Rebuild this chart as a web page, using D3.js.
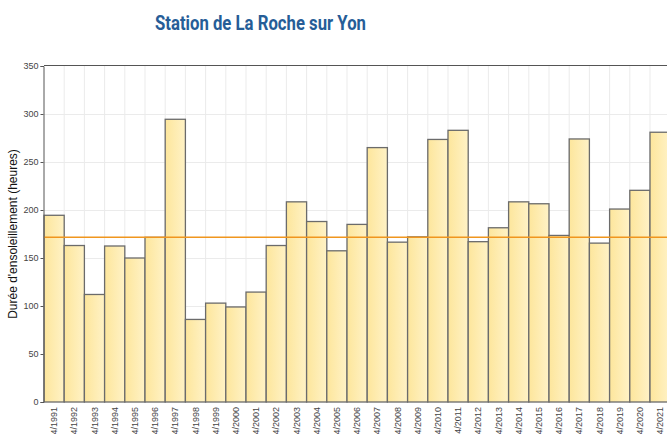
<!DOCTYPE html>
<html>
<head>
<meta charset="utf-8">
<script src="https://cdn.jsdelivr.net/npm/d3@7"></script>
<style>
  html, body { margin: 0; padding: 0; background: #fff; overflow: hidden; }
  svg { display: block; }
</style>
</head>
<body>
<div id="chart"></div>
<script>
const years = [1991, 1992, 1993, 1994, 1995, 1996, 1997, 1998, 1999, 2000,
  2001, 2002, 2003, 2004, 2005, 2006, 2007, 2008, 2009, 2010,
  2011, 2012, 2013, 2014, 2015, 2016, 2017, 2018, 2019, 2020, 2021];
const sunHours = [194.5, 163, 112, 162.5, 150, 171.5, 294.5, 86, 103, 99,
  114.5, 163, 208.5, 188, 157.5, 185, 265, 166.5, 172, 273.5,
  283, 167, 181.5, 208.5, 206.5, 173.5, 274, 165.5, 201, 220.5, 281];
const meanHours = 171.6;
const yTicks = [0, 50, 100, 150, 200, 250, 300, 350];
const labelFor = y => '04/' + y;

const W = 667, H = 434;
const margin = { top: 66, left: 44, bottom: 32 };
const barW = 20.2;
const plotBottom = H - margin.bottom;

const svg = d3.select('#chart').append('svg')
  .attr('width', W)
  .attr('height', H);

const defs = svg.append('defs');
const grad = defs.append('linearGradient')
  .attr('id', 'barFill')
  .attr('x1', '0%').attr('x2', '100%')
  .attr('y1', '0%').attr('y2', '0%');
grad.append('stop').attr('offset', '0%').attr('stop-color', '#fde69c');
grad.append('stop').attr('offset', '100%').attr('stop-color', '#fff2c6');

const x = d3.scaleBand()
  .domain(years)
  .range([margin.left, margin.left + years.length * barW])
  .padding(0);

const y = d3.scaleLinear()
  .domain([0, 350])
  .range([plotBottom, margin.top]);

// title
svg.append('text')
  .attr('x', 260.5)
  .attr('y', 30)
  .attr('text-anchor', 'middle')
  .attr('font-family', 'Roboto, "Open Sans", sans-serif')
  .attr('font-weight', 'bold')
  .attr('font-size', 21)
  .attr('fill', '#265d97')
  .attr('textLength', 211)
  .attr('lengthAdjust', 'spacingAndGlyphs')
  .text('Station de La Roche sur Yon');

// grid
const grid = svg.append('g').attr('stroke', '#ebebeb').attr('stroke-width', 1);
grid.selectAll('line.h')
  .data(yTicks.filter(d => d > 0 && d < 350))
  .join('line')
  .attr('class', 'h')
  .attr('x1', margin.left).attr('x2', W)
  .attr('y1', d => Math.round(y(d)) + 0.5)
  .attr('y2', d => Math.round(y(d)) + 0.5);
grid.selectAll('line.v')
  .data(years.slice(1))
  .join('line')
  .attr('class', 'v')
  .attr('x1', d => x(d)).attr('x2', d => x(d))
  .attr('y1', margin.top).attr('y2', plotBottom);

// bars
svg.append('g')
  .selectAll('rect')
  .data(years)
  .join('rect')
  .attr('x', d => x(d))
  .attr('width', x.bandwidth())
  .attr('y', (d, i) => y(sunHours[i]))
  .attr('height', (d, i) => plotBottom - y(sunHours[i]))
  .attr('fill', 'url(#barFill)')
  .attr('stroke', '#6b6b6b')
  .attr('stroke-width', 1.3);

// mean line
svg.append('line')
  .attr('x1', margin.left).attr('x2', W)
  .attr('y1', y(meanHours)).attr('y2', y(meanHours))
  .attr('stroke', '#f0961e')
  .attr('stroke-width', 1.6);

// top border
svg.append('line')
  .attr('x1', margin.left).attr('x2', W)
  .attr('y1', margin.top - 0.5).attr('y2', margin.top - 0.5)
  .attr('stroke', '#555').attr('stroke-width', 1);

// y axis
const yAxis = svg.append('g')
  .attr('transform', 'translate(' + (margin.left - 0.5) + ',0)')
  .call(d3.axisLeft(y).tickValues(yTicks).tickSize(3).tickPadding(2));
yAxis.select('.domain').attr('stroke', '#555');
yAxis.selectAll('.tick line').attr('stroke', '#555');
yAxis.selectAll('.tick text')
  .attr('font-family', '"Liberation Sans Narrow", "Liberation Sans", Arial, sans-serif')
  .attr('font-size', 9)
  .attr('fill', '#444');

// x labels
svg.append('g')
  .selectAll('text')
  .data(years)
  .join('text')
  .attr('transform', d => 'translate(' + (x(d) + x.bandwidth() / 2 + 3) + ',' + (plotBottom + 5) + ') rotate(-90)')
  .attr('text-anchor', 'end')
  .attr('font-family', '"Liberation Sans Narrow", "Liberation Sans", Arial, sans-serif')
  .attr('font-size', 9)
  .attr('fill', '#444')
  .text(d => labelFor(d));

// y axis title
svg.append('text')
  .attr('transform', 'translate(17,' + (margin.top + plotBottom) / 2 + ') rotate(-90)')
  .attr('text-anchor', 'middle')
  .attr('font-family', '"Liberation Sans", Arial, sans-serif')
  .attr('font-size', 12)
  .attr('fill', '#111')
  .text("Durée d'ensoleillement (heures)");
</script>
</body>
</html>
